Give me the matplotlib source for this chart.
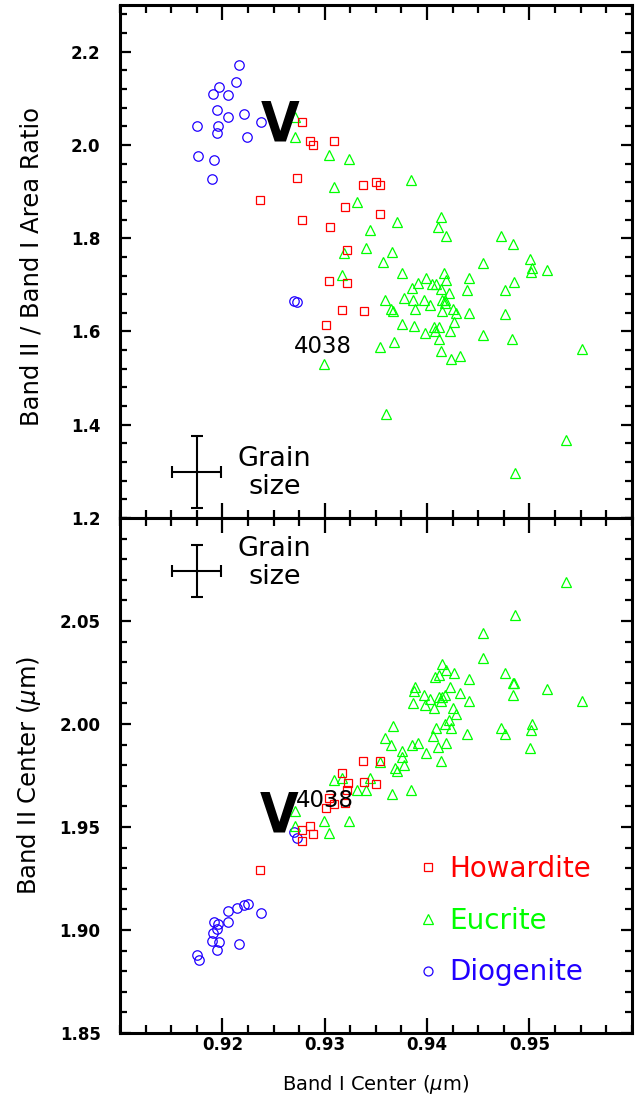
import matplotlib
matplotlib.use("Agg")
import matplotlib.pyplot as plt
from matplotlib.ticker import MultipleLocator

# colours of the three meteorite groups
c_how = '#ff0000'
c_euc = '#00ff00'
c_dio = '#2000ff'

# ---- top panel: Band I center vs Band II / Band I area ratio ----
top_how_x = [0.9278, 0.9286, 0.9289, 0.9309, 0.9273, 0.9337, 0.9350, 0.9354, 0.9237, 0.9320,
             0.9278, 0.9305, 0.9354, 0.9322, 0.9304, 0.9322, 0.9317, 0.9338, 0.9301]
top_how_y = [2.049, 2.008, 2.000, 2.008, 1.930, 1.914, 1.921, 1.914, 1.883, 1.868,
             1.839, 1.825, 1.852, 1.775, 1.709, 1.705, 1.647, 1.644, 1.614]

top_euc_x = [0.9271, 0.9271, 0.9304, 0.9324, 0.9309, 0.9332, 0.9344, 0.9340, 0.9319, 0.9384,
             0.9371, 0.9414, 0.9411, 0.9419, 0.9472, 0.9484, 0.9366, 0.9357, 0.9501, 0.9455,
             0.9503, 0.9502, 0.9517, 0.9376, 0.9417, 0.9399, 0.9441, 0.9419, 0.9391, 0.9405,
             0.9409, 0.9485, 0.9385, 0.9414, 0.9439, 0.9476, 0.9421, 0.9378, 0.9359, 0.9386,
             0.9397, 0.9415, 0.9418, 0.9418, 0.9403, 0.9365, 0.9367, 0.9388, 0.9415, 0.9425,
             0.9428, 0.9441, 0.9476, 0.9426, 0.9376, 0.9387, 0.9407, 0.9412, 0.9408, 0.9422,
             0.9398, 0.9455, 0.9412, 0.9483, 0.9368, 0.9354, 0.9414, 0.9432, 0.9423, 0.9551,
             0.9360, 0.9536, 0.9486, 0.9317, 0.9299]
top_euc_y = [2.059, 2.018, 1.978, 1.969, 1.909, 1.877, 1.818, 1.778, 1.768, 1.924,
             1.834, 1.845, 1.825, 1.804, 1.804, 1.788, 1.770, 1.749, 1.755, 1.747,
             1.736, 1.728, 1.732, 1.726, 1.726, 1.714, 1.715, 1.711, 1.704, 1.702,
             1.702, 1.706, 1.693, 1.691, 1.689, 1.689, 1.682, 1.672, 1.667, 1.667,
             1.667, 1.668, 1.668, 1.661, 1.656, 1.649, 1.643, 1.648, 1.644, 1.648,
             1.639, 1.639, 1.637, 1.621, 1.617, 1.612, 1.610, 1.609, 1.602, 1.602,
             1.597, 1.592, 1.584, 1.584, 1.577, 1.567, 1.559, 1.548, 1.541, 1.562,
             1.424, 1.368, 1.296, 1.721, 1.531]

top_dio_x = [0.9216, 0.9213, 0.9197, 0.9191, 0.9206, 0.9195, 0.9206, 0.9221, 0.9238, 0.9175,
             0.9196, 0.9195, 0.9224, 0.9176, 0.9192, 0.9190, 0.9270, 0.9273]
top_dio_y = [2.171, 2.134, 2.124, 2.109, 2.108, 2.076, 2.059, 2.066, 2.049, 2.041,
             2.041, 2.025, 2.017, 1.976, 1.967, 1.927, 1.666, 1.664]

# ---- bottom panel: Band I center vs Band II center ----
bot_how_x = [0.9337, 0.9317, 0.9354, 0.9350, 0.9323, 0.9338, 0.9304, 0.9322, 0.9309, 0.9301,
             0.9320, 0.9278, 0.9286, 0.9289, 0.9278, 0.9237]
bot_how_y = [1.982, 1.976, 1.982, 1.971, 1.9715, 1.972, 1.964, 1.968, 1.961, 1.959,
             1.9615, 1.9485, 1.9506, 1.9465, 1.9434, 1.9293]

bot_euc_x = [0.9536, 0.9486, 0.9455, 0.9455, 0.9415, 0.9419, 0.9426, 0.9412, 0.9408, 0.9476,
             0.9441, 0.9484, 0.9485, 0.9422, 0.9388, 0.9387, 0.9517, 0.9397, 0.9432, 0.9412,
             0.9418, 0.9415, 0.9403, 0.9414, 0.9484, 0.9551, 0.9386, 0.9441, 0.9398, 0.9407,
             0.9425, 0.9428, 0.9421, 0.9418, 0.9503, 0.9409, 0.9423, 0.9367, 0.9472, 0.9502,
             0.9406, 0.9439, 0.9476, 0.9359, 0.9365, 0.9385, 0.9391, 0.9419, 0.9411, 0.9501,
             0.9376, 0.9399, 0.9376, 0.9414, 0.9378, 0.9369, 0.9354, 0.9371, 0.9366, 0.9384,
             0.9309, 0.9317, 0.9332, 0.9340, 0.9344, 0.9271, 0.9271, 0.9299, 0.9304, 0.9324]
bot_euc_y = [2.069, 2.053, 2.044, 2.032, 2.029, 2.026, 2.025, 2.024, 2.023, 2.025,
             2.022, 2.020, 2.020, 2.018, 2.018, 2.016, 2.017, 2.014, 2.015, 2.013,
             2.014, 2.013, 2.012, 2.011, 2.014, 2.011, 2.010, 2.011, 2.009, 2.008,
             2.008, 2.005, 2.002, 2.000, 2.000, 1.998, 1.998, 1.999, 1.998, 1.997,
             1.994, 1.995, 1.995, 1.993, 1.990, 1.990, 1.991, 1.991, 1.989, 1.9885,
             1.987, 1.986, 1.984, 1.982, 1.980, 1.9785, 1.9817, 1.977, 1.966, 1.968,
             1.973, 1.974, 1.968, 1.968, 1.974, 1.958, 1.9505, 1.953, 1.947, 1.953]

bot_dio_x = [0.9270, 0.9273, 0.9238, 0.9225, 0.9221, 0.9214, 0.9206, 0.9206, 0.9196, 0.9192,
             0.9195, 0.9191, 0.9190, 0.9197, 0.9216, 0.9195, 0.9175, 0.9177]
bot_dio_y = [1.9474, 1.9445, 1.9081, 1.9126, 1.9121, 1.9105, 1.9092, 1.9040, 1.9029, 1.9037,
             1.9003, 1.8987, 1.8947, 1.8943, 1.8932, 1.8903, 1.8877, 1.8854]

# labelled ticks
x_ticks = [0.92, 0.93, 0.94, 0.95]
top_y_ticks = [1.2, 1.4, 1.6, 1.8, 2.0, 2.2]
bot_y_ticks = [1.85, 1.90, 1.95, 2.00, 2.05]

# grain size error crosses (centre x, centre y, x err, y err)
grain_top = (0.9175, 1.299, 0.0024, 0.0772)
grain_bot = (0.9175, 2.0743, 0.0024, 0.0128)

fig = plt.figure(figsize=(6.38, 10.95), dpi=100)
ax1 = fig.add_axes([0.1881, 0.5269, 0.802, 0.4685])
ax2 = fig.add_axes([0.1881, 0.0566, 0.802, 0.4703])

mk = dict(linestyle='none', markerfacecolor='none', markeredgewidth=0.9)


def style_axes(ax):
    for s in ax.spines.values():
        s.set_linewidth(2.2)
    ax.set_xlim(0.91, 0.96)
    ax.set_xticks(x_ticks)
    ax.xaxis.set_minor_locator(MultipleLocator(0.0025))
    ax.tick_params(axis='both', which='both', direction='in', top=True, right=True, width=1.6)
    ax.tick_params(axis='x', which='major', length=11, pad=2)
    ax.tick_params(axis='x', which='minor', length=5.5)
    ax.tick_params(axis='y', which='major', length=8, pad=14)
    ax.tick_params(axis='y', which='minor', length=5)
    for lab in ax.get_xticklabels() + ax.get_yticklabels():
        lab.set_fontsize(12)
        lab.set_fontweight('bold')


# top panel
ax1.plot(top_dio_x, top_dio_y, marker='o', ms=6.8, color=c_dio, **mk)
ax1.plot(top_euc_x, top_euc_y, marker='^', ms=7, color=c_euc, **mk)
ax1.plot(top_how_x, top_how_y, marker='s', ms=5.8, color=c_how, **mk)
ax1.set_ylim(1.2, 2.3)
ax1.set_yticks(top_y_ticks)
ax1.yaxis.set_minor_locator(MultipleLocator(0.04))
ax1.yaxis.set_major_formatter(lambda v, p: '%.1f' % v)
style_axes(ax1)
ax1.tick_params(axis='x', labelbottom=False)
ax1.set_ylabel('Band II / Band I Area Ratio', fontsize=17.5)
ax1.yaxis.set_label_coords(-0.15, 0.49)

ax1.errorbar(grain_top[0], grain_top[1], xerr=grain_top[2], yerr=grain_top[3],
             color='black', lw=1.5, capsize=4.5, capthick=1.5)
ax1.text(0.9251, 1.297, 'Grain\nsize', fontsize=19.5, ha='center', va='center', linespacing=1.1)
ax1.text(0.92564, 2.041, 'V', fontsize=40, fontweight='bold', fontstretch='condensed',
         ha='center', va='center')
ax1.text(0.92986, 1.568, '4038', fontsize=16.5, ha='center', va='center')

# bottom panel
h_dio, = ax2.plot(bot_dio_x, bot_dio_y, marker='o', ms=6.8, color=c_dio, **mk)
h_euc, = ax2.plot(bot_euc_x, bot_euc_y, marker='^', ms=7, color=c_euc, **mk)
h_how, = ax2.plot(bot_how_x, bot_how_y, marker='s', ms=5.8, color=c_how, **mk)
ax2.set_ylim(1.85, 2.10)
ax2.set_yticks(bot_y_ticks)
ax2.yaxis.set_minor_locator(MultipleLocator(0.01))
ax2.yaxis.set_major_formatter(lambda v, p: '%.2f' % v)
ax2.xaxis.set_major_formatter(lambda v, p: '%.2f' % v)
style_axes(ax2)
ax2.set_ylabel(r'Band II Center ($\mu$m)', fontsize=17.5)
ax2.yaxis.set_label_coords(-0.15, 0.5)
ax2.set_xlabel(r'Band I Center ($\mu$m)', fontsize=14, labelpad=14)

ax2.errorbar(grain_bot[0], grain_bot[1], xerr=grain_bot[2], yerr=grain_bot[3],
             color='black', lw=1.5, capsize=4.5, capthick=1.5)
ax2.text(0.9251, 2.0782, 'Grain\nsize', fontsize=19.5, ha='center', va='center', linespacing=1.1)
ax2.text(0.92551, 1.9553, 'V', fontsize=40, fontweight='bold', fontstretch='condensed',
         ha='center', va='center')
ax2.text(0.92998, 1.9629, '4038', fontsize=16.5, ha='center', va='center')

ax2.legend([h_how, h_euc, h_dio], ['Howardite', 'Eucrite', 'Diogenite'],
           loc='center left', bbox_to_anchor=(0.581, 0.218), frameon=False,
           fontsize=20, labelcolor='linecolor', markerscale=0.95,
           handlelength=0.8, handletextpad=0.35, labelspacing=0.85,
           borderpad=0, borderaxespad=0)

fig.savefig('out.png', dpi=100)
